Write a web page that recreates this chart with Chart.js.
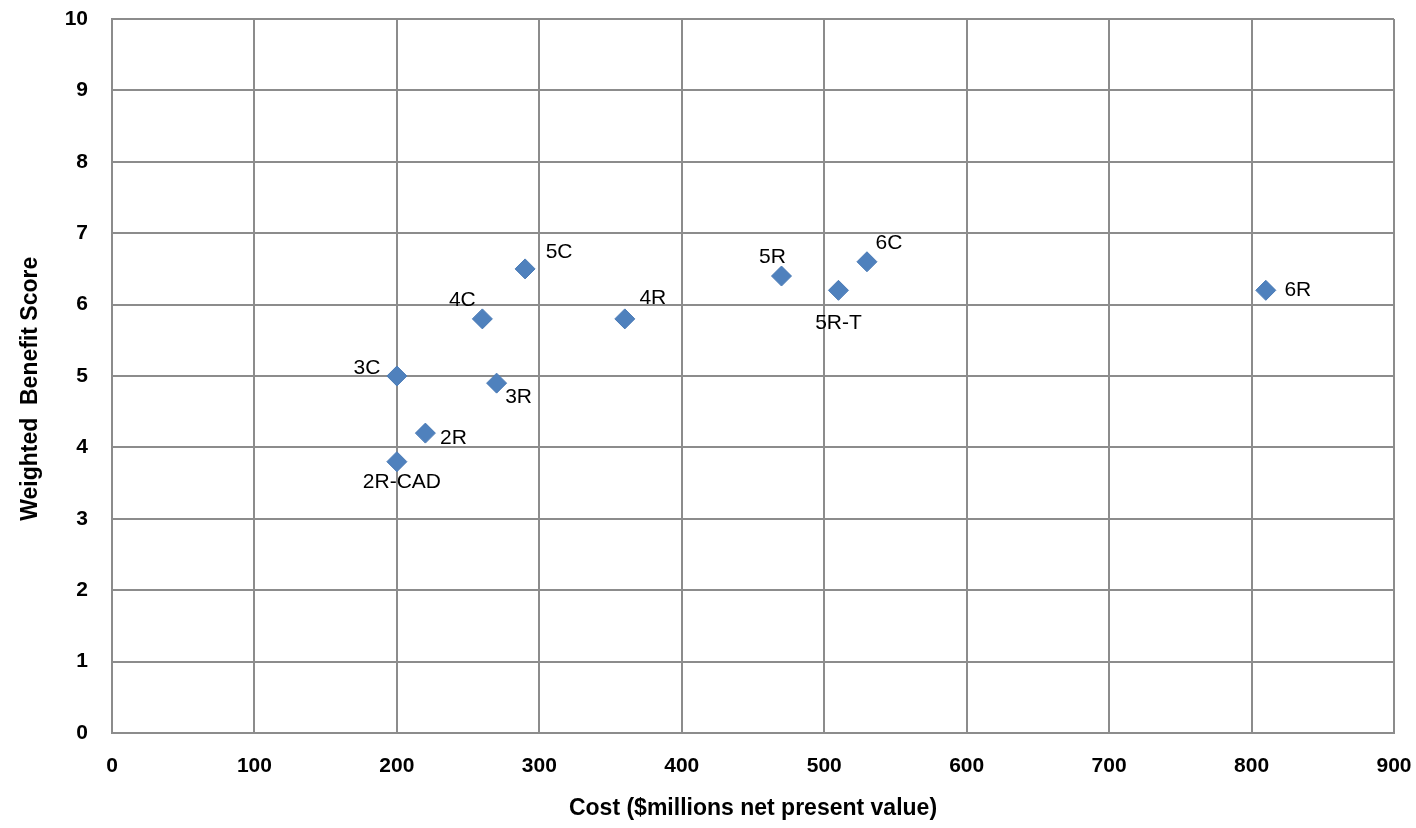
<!DOCTYPE html>
<html>
<head>
<meta charset="utf-8">
<script src="https://cdn.jsdelivr.net/npm/chart.js@4"></script>
<style>
  html, body { margin: 0; padding: 0; background: #fff; }
  #wrap { width: 1416px; height: 828px; }
</style>
</head>
<body>
<div id="wrap"><canvas id="chart" width="1416" height="828"></canvas></div>
<script>
// data
const options_names = ["2R", "2R-CAD", "3C", "3R", "4C", "4R", "5C", "5R", "5R-T", "6C", "6R"];
const cost = [220, 200, 200, 270, 260, 360, 290, 470, 510, 530, 810];
const benefit = [4.2, 3.8, 5.0, 4.9, 5.8, 5.8, 6.5, 6.4, 6.2, 6.6, 6.2];
const xTicks = [0, 100, 200, 300, 400, 500, 600, 700, 800, 900];
const yTicks = [0, 1, 2, 3, 4, 5, 6, 7, 8, 9, 10];

const FONT = "'Liberation Sans', Arial, sans-serif";
const GRID = "#8c8c8c";

// where each label sits relative to its marker (px, label centre)
const labelOffsets = {
  "2R": [28, 5],
  "2R-CAD": [5, 21],
  "3C": [-30, -8],
  "3R": [22, 14],
  "4C": [-20, -19],
  "4R": [28, -21],
  "5C": [34, -17],
  "5R": [-9, -19],
  "5R-T": [0, 33],
  "6C": [22, -19],
  "6R": [32, 0],
};

const points = cost.map((c, i) => ({ x: c, y: benefit[i] }));

const pointLabels = {
  id: "pointLabels",
  afterDatasetsDraw(chart) {
    const ctx = chart.ctx;
    const meta = chart.getDatasetMeta(0);
    ctx.save();
    ctx.font = "21px " + FONT;
    ctx.fillStyle = "#000";
    ctx.textAlign = "center";
    ctx.textBaseline = "middle";
    meta.data.forEach((pt, i) => {
      const name = options_names[i];
      const off = labelOffsets[name] || [20, 0];
      ctx.fillText(name, pt.x + off[0], pt.y + off[1]);
    });
    ctx.restore();
  },
};

new Chart(document.getElementById("chart"), {
  type: "scatter",
  data: {
    datasets: [
      {
        data: points,
        pointStyle: "rectRot",
        pointRadius: 10,
        pointHoverRadius: 10,
        backgroundColor: "#4f81bd",
        borderColor: "#4a7ab5",
        borderWidth: 1,
      },
    ],
  },
  options: {
    responsive: false,
    animation: false,
    layout: { padding: { top: 19, right: 22, left: 0, bottom: 0 } },
    plugins: {
      legend: { display: false },
      tooltip: { enabled: false },
    },
    scales: {
      x: {
        type: "linear",
        min: 0,
        max: 900,
        afterBuildTicks(scale) {
          scale.ticks = xTicks.map((v) => ({ value: v }));
        },
        afterFit(scale) {
          scale.height = 95;
          scale.paddingLeft = 0;
          scale.paddingRight = 0;
        },
        grid: { color: GRID, lineWidth: 2, drawTicks: false },
        border: { color: GRID, width: 2 },
        ticks: {
          padding: 21,
          color: "#000",
          font: { family: FONT, size: 21, weight: "bold", lineHeight: 1.2 },
          maxRotation: 0,
        },
        title: {
          display: true,
          text: "Cost ($millions net present value)",
          color: "#000",
          font: { family: FONT, size: 23, weight: "bold", lineHeight: 1.2 },
          padding: { top: 0, bottom: 6 },
        },
      },
      y: {
        type: "linear",
        min: 0,
        max: 10,
        afterBuildTicks(scale) {
          scale.ticks = yTicks.map((v) => ({ value: v }));
        },
        afterFit(scale) {
          scale.width = 112;
          scale.paddingTop = 0;
          scale.paddingBottom = 0;
        },
        grid: { color: GRID, lineWidth: 2, drawTicks: false },
        border: { color: GRID, width: 2 },
        ticks: {
          padding: 24,
          color: "#000",
          font: { family: FONT, size: 21, weight: "bold", lineHeight: 1.2 },
        },
        title: {
          display: true,
          text: "Weighted  Benefit Score    ",
          color: "#000",
          font: { family: FONT, size: 23, weight: "bold", lineHeight: 1.2 },
          padding: { top: 17, bottom: 0 },
        },
      },
    },
  },
  plugins: [pointLabels],
});
</script>
</body>
</html>
